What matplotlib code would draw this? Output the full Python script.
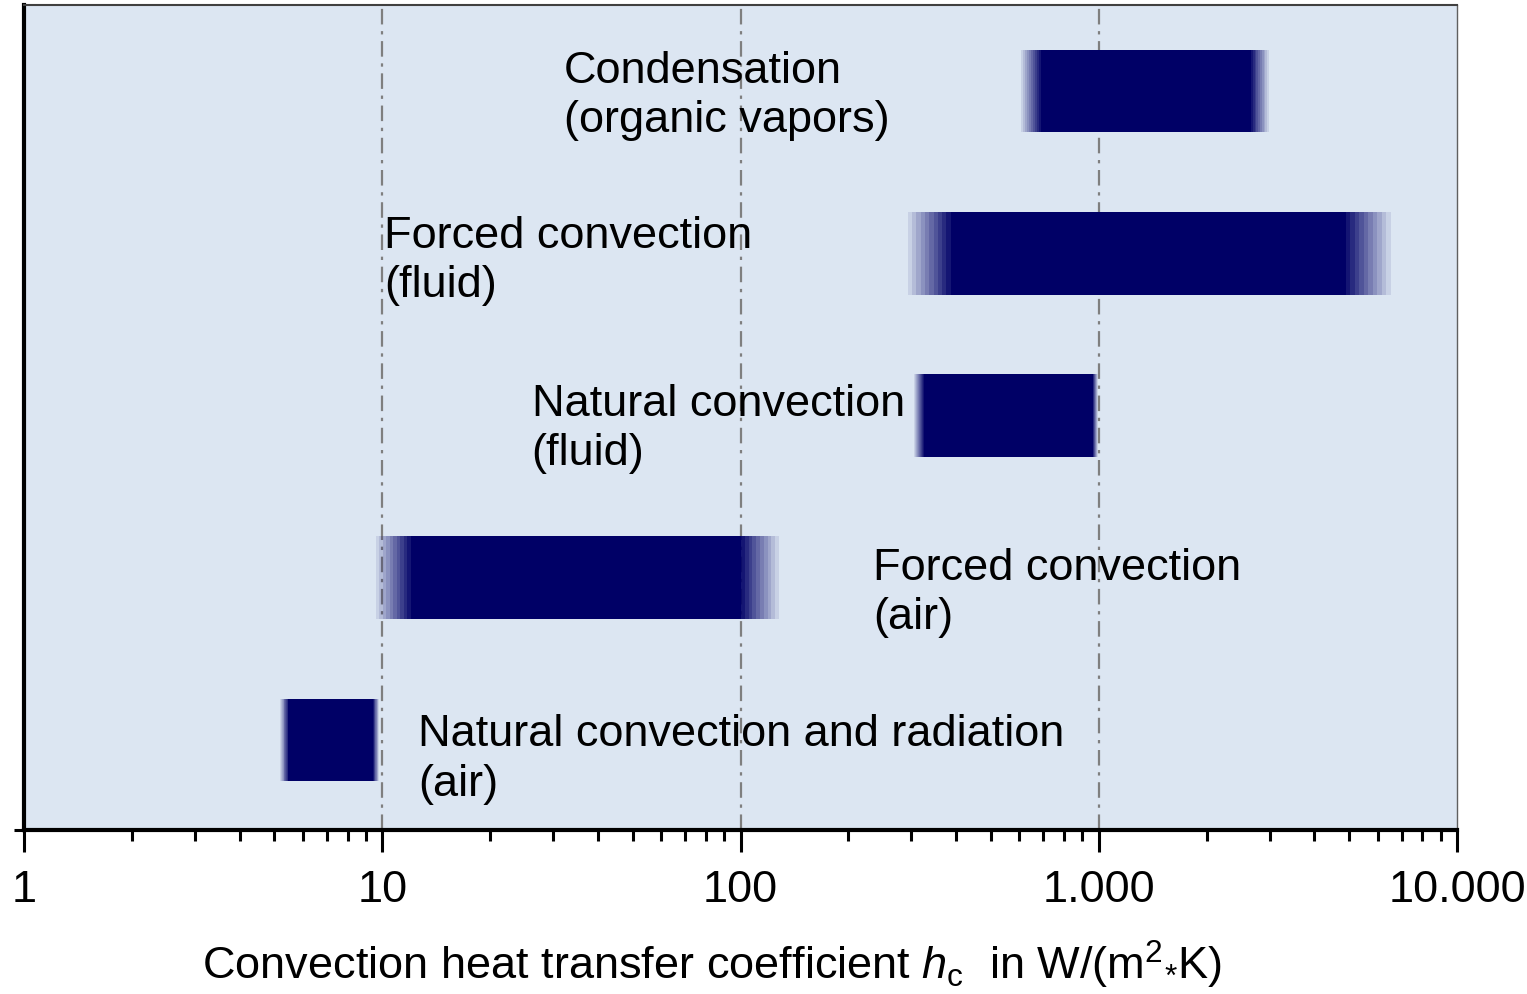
import matplotlib.pyplot as plt
import numpy as np

plt.rcParams['font.family'] = ['Liberation Sans', 'DejaVu Sans']
plt.rcParams['mathtext.fontset'] = 'custom'
plt.rcParams['mathtext.rm'] = 'Liberation Sans'
plt.rcParams['mathtext.it'] = 'Liberation Sans:italic'

# Bereiche des Wärmeübergangskoeffizienten in W/(m²K), unten -> oben
categories = ["Natural convection and radiation\n(air)",
              "Forced convection\n(air)",
              "Natural convection\n(fluid)",
              "Forced convection\n(fluid)",
              "Condensation\n(organic vapors)"]
h_min = [5.2, 9.6, 304, 293, 606]
h_max = [9.8, 128, 993, 6540, 2985]

# Breite des weichen Randes (in Dekaden), links / rechts
fade_left = [0.022, 0.098, 0.028, 0.12, 0.056]
fade_right = [0.017, 0.106, 0.014, 0.126, 0.05]

# Position der Beschriftungen
label_x = [12.6, 234, 26.1, 10.1, 32.2]
label_y = [0.88, 1.905, 2.915, 3.95, 4.97]

bar_color = '#000066'
bg_color = '#dce6f2'

fig = plt.figure(figsize=(15.27, 9.94), dpi=100)
ax = fig.add_axes([0.0157, 0.165, 0.9385, 0.830])
ax.set_facecolor(bg_color)
ax.set_xscale('log')
ax.set_xlim(1, 10000)
ax.set_ylim(0.445, 5.53)

for xv in [10, 100, 1000]:
    ax.axvline(xv, color='#7f7f7f', lw=1.6, ls=(0, (7, 3, 1.5, 3)), zorder=1)

height = 0.51
nsteps = 10
for i in range(len(categories)):
    y = i + 1
    lo, hi = h_min[i], h_max[i]
    a = lo * 10 ** fade_left[i]
    b = hi / 10 ** fade_right[i]
    ax.barh(y, b - a, left=a, height=height, color=bar_color, zorder=2)
    # weicher Rand als Stufen
    edges_l = np.logspace(np.log10(lo), np.log10(a), nsteps + 1)
    edges_r = np.logspace(np.log10(b), np.log10(hi), nsteps + 1)
    for k in range(nsteps):
        al = (k + 1) / (nsteps + 1)
        ax.barh(y, edges_l[k + 1] - edges_l[k], left=edges_l[k], height=height,
                color=bar_color, alpha=al, lw=0, zorder=2)
        ar = 1 - (k + 1) / (nsteps + 1)
        ax.barh(y, edges_r[k + 1] - edges_r[k], left=edges_r[k], height=height,
                color=bar_color, alpha=ar, lw=0, zorder=2)
    ax.text(label_x[i], label_y[i], categories[i], fontsize=32.5, ha='left',
            va='center', linespacing=1.26, zorder=3)

ax.set_xticks([1, 10, 100, 1000, 10000])
ax.set_xticklabels(['1', '10', '100', '1.000', '10.000'], fontsize=32.5)
ax.tick_params(axis='x', which='major', length=16, width=2.2, pad=13, direction='out')
ax.tick_params(axis='x', which='minor', length=8, width=2.2, direction='out')
ax.set_yticks([0.445])
ax.set_yticklabels([])
ax.tick_params(axis='y', length=7, width=2.2)

ax.spines['left'].set_linewidth(3)
ax.spines['bottom'].set_linewidth(3)
ax.spines['top'].set_linewidth(1.5)
ax.spines['top'].set_color('#404040')
ax.spines['right'].set_linewidth(1)
ax.spines['right'].set_color('#606060')

fig.text(0.466, 0.014,
         r"Convection heat transfer coefficient $h_\mathrm{c}$  in W/(m$^{2}$$_{*}$K)",
         fontsize=32.5, ha='center', va='baseline')

plt.savefig("out.png")
